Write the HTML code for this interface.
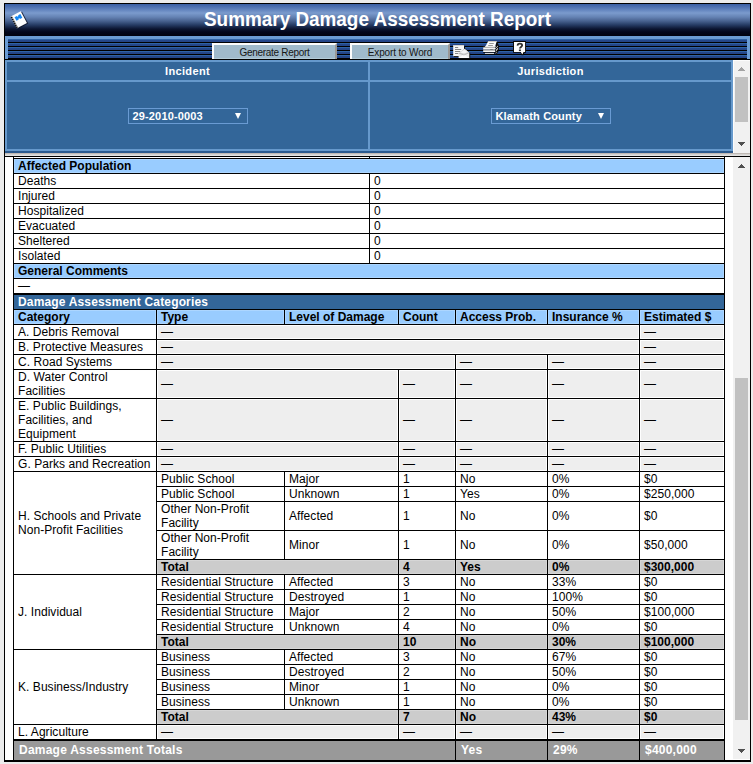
<!DOCTYPE html>
<html>
<head>
<meta charset="utf-8">
<title>Summary Damage Assessment Report</title>
<style>
html,body{margin:0;padding:0;}
body{width:753px;height:764px;overflow:hidden;background:#ececec;font-family:"Liberation Sans",sans-serif;font-size:12px;color:#000;position:relative;}
#frame{position:absolute;left:4px;top:3px;width:745px;height:757px;border:1px solid #000;background:#fff;overflow:hidden;}
/* coordinates inside frame: page x-5, page y-4 */
#title{position:absolute;left:0;top:0;width:745px;height:32px;
 background:linear-gradient(to bottom,#3a5fa4 0px,#5578b6 4px,#7b9bcd 9px,#6583b4 13px,#48628f 17px,#253b63 21px,#0b1530 25px,#03061a 28px,#01020e 32px);}
#title h1{margin:0;position:absolute;left:0;top:3px;width:745px;text-align:center;font-size:20px;transform:scaleX(0.945);transform-origin:372.5px 0;line-height:24px;font-weight:bold;color:#fff;}
#toolbar{position:absolute;left:0;top:32px;width:739px;height:20px;border:3px solid #6a9bd3;border-bottom:none;
 background:repeating-linear-gradient(to bottom,#3068ab 0px,#2c5c9f 1px,#25478b 1px,#234487 3px,#000 3px,#000 4px);}
#tbline{position:absolute;left:0;top:55px;width:745px;height:1px;background:#000;}
.btn{position:absolute;top:4px;height:14px;border:2px solid;border-color:#fbfbfb #9a9896 #9a9896 #fbfbfb;border-bottom:none;background:linear-gradient(to bottom,#a0bacb 0,#a0bacb 13px,#b4ccd9 13px);color:#161616;font-size:10px;line-height:15px;text-align:center;letter-spacing:-0.3px;}
#panel{position:absolute;left:0;top:56px;width:745px;height:93px;background:linear-gradient(to bottom,#336699 0,#336699 91px,#2b5a8e 91px);}
#split{position:absolute;left:0;top:149px;width:745px;height:3px;background:linear-gradient(to bottom,#b4aca6,#d6d4d2,#e6e6e6);border-bottom:1px solid #000;}
#main{position:absolute;left:0;top:153px;width:745px;height:603px;background:#fff;}
#botline{position:absolute;left:0;top:756px;width:745px;height:1px;background:#000;}
table.d{position:absolute;left:8px;border-collapse:separate;border-spacing:0;border-left:1px solid #000;border-top:1px solid #000;table-layout:fixed;}
table.d td{border-right:1px solid #000;border-bottom:1px solid #000;padding:0 4px;line-height:14px;height:14px;font-size:12px;vertical-align:middle;background:#fff;overflow:hidden;white-space:nowrap;letter-spacing:0.05px;box-shadow:inset 0 0 0 1px rgba(255,255,255,0.45);}
table.d td.h{background:#99ccff;font-weight:bold;letter-spacing:0;box-shadow:inset 0 0 0 1px rgba(255,255,255,0.2);}
table.d td.hd{background:#336699;color:#fff;font-weight:bold;letter-spacing:0.16px;box-shadow:none;}
table.d td.e{background:#eeeeee;box-shadow:inset 0 0 0 1px rgba(255,255,255,0.9);}
table.d tr.t td{background:#cccccc;font-weight:bold;letter-spacing:0;box-shadow:inset 0 0 0 1px rgba(255,255,255,0.2);}
table.d tr.g td{background:#999999;color:#fff;font-weight:bold;height:17px;border-top:1px solid #000;padding:2px 4px 0 5px;vertical-align:top;box-shadow:none;letter-spacing:0.23px;}
table.p{position:absolute;left:0;top:0;width:728px;height:91px;border-collapse:separate;border-spacing:0;border:1px solid #6699cc;}
table.p td{border:1px solid #6699cc;text-align:center;color:#fff;font-weight:bold;font-size:11px;padding:0;}
table.p td.ph{height:18px;line-height:18px;letter-spacing:0.35px;}
table.p td.pb{vertical-align:middle;}
.sel{display:inline-block;position:relative;height:14px;line-height:14px;border:1px solid #6a9bd3;text-align:left;text-indent:4px;font-size:11px;color:#fff;font-weight:bold;letter-spacing:0.15px;}
.sel i{position:absolute;right:6px;top:4px;width:0;height:0;border-left:3.5px solid transparent;border-right:3.5px solid transparent;border-top:6px solid #fff;}
.sb{position:absolute;width:17px;background:#f1f1f1;}
.thumb{position:absolute;left:2px;width:13px;background:#c1c1c1;}
.arr{position:absolute;left:5px;display:block;}
</style>
</head>
<body>
<div id="frame">
 <div id="title"><h1>Summary Damage Assessment Report</h1></div>
 <div id="toolbar">
  <div class="btn" style="left:204px;width:121px;">Generate Report</div>
  <div class="btn" style="left:342px;width:96px;letter-spacing:-0.15px;">Export to Word</div>
 </div>
 <div id="tbline"></div>
 <svg id="ic-note" style="position:absolute;left:0;top:0;" width="32" height="32" viewBox="0 0 32 32">
  <g transform="translate(13.9,15.8) rotate(-28)">
   <rect x="-4.6" y="-5.6" width="11.2" height="13.2" fill="#0a0f20" opacity="0.75"/>
   <rect x="-5.7" y="-6.7" width="11.3" height="13.3" fill="#fdfdfd"/>
   <rect x="-5.7" y="-6.7" width="1.6" height="13.3" fill="#d8d8d8"/>
   <g fill="#111"><circle cx="-5.3" cy="-5.4" r="0.85"/><circle cx="-5.3" cy="-3.2" r="0.85"/><circle cx="-5.3" cy="-1.0" r="0.85"/><circle cx="-5.3" cy="1.2" r="0.85"/><circle cx="-5.3" cy="3.4" r="0.85"/><circle cx="-5.3" cy="5.6" r="0.85"/></g>
   <path d="M-2.6,-4.4 h2.6 v0.9 h1.4 v-0.9 h2.6 v4.2 h-2.6 v-0.9 h-1.4 v0.9 h-2.6 z" fill="#1787f2"/>
  </g>
 </svg>
 <svg id="ic-mail" style="position:absolute;left:447px;top:40px;" width="20" height="16" viewBox="0 0 20 16">
  <rect x="2" y="2" width="11" height="11" fill="#0c0c0c"/>
  <rect x="1.2" y="1.2" width="10.8" height="10.9" fill="#f7f7f7"/>
  <rect x="1.2" y="1.2" width="10.8" height="0.8" fill="#d8d2c8"/>
  <g stroke="#868686" stroke-width="1"><line x1="3" y1="3.5" x2="6.2" y2="3.5"/><line x1="3" y1="5.5" x2="9.2" y2="5.5"/><line x1="3" y1="7.5" x2="8.3" y2="7.5"/><line x1="3" y1="9.5" x2="6.3" y2="9.5"/></g>
  <path d="M7.4,9.6 L12.9,4.4 L18.2,9 L18.2,14.8 L7.4,14.8 z" fill="#0c0c0c"/>
  <path d="M6.6,9.2 L12.5,4.8 L17.3,8.7 L17.3,13.9 L6.6,13.9 z" fill="#ececec"/>
  <path d="M6.6,9.2 L12.5,4.8 L17.3,8.7 L12,10.9 z" fill="#d2d2d2"/>
  <path d="M8.2,8.6 L12.5,5.4 L15.8,8.2 L12,9.6 z" fill="#f4f4f4"/>
  <path d="M6.6,13.9 L12,10.5 L17.3,13.9 z" fill="#fbfbfb"/>
  <path d="M6.6,9.2 L12,11 L17.3,8.7" stroke="#a8a8a8" stroke-width="0.6" fill="none"/>
 </svg>
 <svg id="ic-print" style="position:absolute;left:477px;top:36px;" width="18" height="16" viewBox="0 0 18 16">
  <path d="M14.4,1.2 L15.6,3 L16.8,5.2 L16.9,9.4 L16.2,12 L14.4,14.5 L12.2,14.5 L13.2,12.4 L13.2,7 z" fill="#0b0b0b"/>
  <g fill="#e4e4e4"><rect x="12.9" y="5.9" width="0.9" height="0.9"/><rect x="15.1" y="5.9" width="0.9" height="0.9"/><rect x="14" y="6.9" width="0.9" height="0.9"/><rect x="12.9" y="7.9" width="0.9" height="0.9"/><rect x="15.1" y="7.9" width="0.9" height="0.9"/><rect x="14.2" y="9" width="0.9" height="0.9"/><rect x="15.1" y="8.9" width="0.8" height="0.8"/><rect x="14" y="10.2" width="0.9" height="0.9"/><rect x="14.3" y="11.9" width="0.8" height="0.8"/><rect x="13.4" y="12.7" width="0.8" height="0.8"/></g>
  <path d="M6.2,1.2 L14.8,1.2 L12.8,7 L2.8,7 L4.2,5 L5.2,3 z" fill="#fbfbfb"/>
  <path d="M6.2,1.2 L14.8,1.2 L14.6,1.9 L5.9,1.9 z" fill="#cfc8ba"/>
  <g stroke="#8c8c8c" stroke-width="0.9"><line x1="7.2" y1="3.5" x2="11.8" y2="3.5"/><line x1="6.2" y1="5.5" x2="10.9" y2="5.5"/></g>
  <rect x="1.4" y="6.8" width="11.8" height="1.2" fill="#b4b4b4"/>
  <rect x="1.2" y="8" width="12" height="1.2" fill="#f6f6f6"/>
  <rect x="1.2" y="9.2" width="12" height="1.1" fill="#b0b0b0"/>
  <rect x="8.2" y="9.3" width="2.6" height="0.9" fill="#6a6a6a"/>
  <rect x="1.2" y="10.3" width="12" height="1.7" fill="#f8f8f8"/>
  <rect x="1.2" y="12" width="12.2" height="0.8" fill="#050505"/>
  <rect x="3" y="12.9" width="9" height="1" fill="#ffffff"/>
  <rect x="2.6" y="13.9" width="10" height="0.7" fill="#050505"/>
 </svg>
 <svg id="ic-help" style="position:absolute;left:507px;top:36px;" width="16" height="16" viewBox="0 0 16 16">
  <path d="M1.1,0.9 H14 V12.7 H12.6 L11.4,15.2 L9.4,15.2 L8.6,12.7 H1.1 z" fill="#070707"/>
  <path d="M2,1.9 H13.1 V11.9 H11.5 L10.5,14.2 L9.6,13.4 L8.9,11.9 H2 z" fill="#fdfdfd"/>
  <path d="M5.7,5.6 C5.5,2.9 10.3,3 10.1,5.5 C10,7 7.9,6.9 7.9,8.6" stroke="#303030" stroke-width="1.9" fill="none"/><rect x="6.9" y="9.5" width="2" height="1.6" fill="#303030"/>
 </svg>

 <div id="panel">
  <table class="p" cellspacing="0" cellpadding="0">
   <tr><td class="ph" style="width:361px;">Incident</td><td class="ph">Jurisdiction</td></tr>
   <tr><td class="pb"><div class="sel" style="width:118px;">29-2010-0003<i></i></div></td><td class="pb"><div class="sel" style="width:118px;">Klamath County<i></i></div></td></tr>
  </table>
  <div class="sb" style="left:728px;top:0;height:93px;box-shadow:inset 1px 1px 0 #fcfcfc;">
   <svg class="arr" style="top:7px;" width="7" height="4" viewBox="0 0 7 4" shape-rendering="crispEdges"><path d="M3,0h1v1h1v1h1v1h1v1h-7v-1h1v-1h1v-1h1z" fill="#a3a3a3"/></svg>
   <div class="thumb" style="top:17px;height:45px;"></div>
   <svg class="arr" style="top:82px;" width="7" height="4" viewBox="0 0 7 4" shape-rendering="crispEdges"><path d="M0,0h7v1h-1v1h-1v1h-1v1h-1v-1h-1v-1h-1v-1h-1z" fill="#505050"/></svg>
  </div>
 </div>
 <div id="split"></div>
 <div id="botline"></div>
 <div id="main">
  
  <table class="d" style="top:0px;width:712px;border-top:none;">
   <colgroup><col style="width:356px"><col style="width:355px"></colgroup>
   <tr style="height:2px"><td style="height:1px;line-height:1px;font-size:1px;"></td><td style="height:1px;line-height:1px;font-size:1px;"></td></tr>
   <tr><td class="h" colspan="2">Affected Population</td></tr>
   <tr><td>Deaths</td><td>0</td></tr>
   <tr><td>Injured</td><td>0</td></tr>
   <tr><td>Hospitalized</td><td>0</td></tr>
   <tr><td>Evacuated</td><td>0</td></tr>
   <tr><td>Sheltered</td><td>0</td></tr>
   <tr><td>Isolated</td><td>0</td></tr>
   <tr><td class="h" colspan="2">General Comments</td></tr>
   <tr><td colspan="2">&mdash;</td></tr>
  </table>
  <table class="d" style="top:137px;width:712px;">
   <colgroup><col style="width:143px"><col style="width:128px"><col style="width:114px"><col style="width:57px"><col style="width:92px"><col style="width:92px"><col style="width:85px"></colgroup>
   <tr><td class="hd" colspan="7">Damage Assessment Categories</td></tr>
   <tr><td class="h">Category</td><td class="h">Type</td><td class="h">Level of Damage</td><td class="h">Count</td><td class="h">Access Prob.</td><td class="h">Insurance %</td><td class="h">Estimated $</td></tr>
   <tr><td>A. Debris Removal</td><td class="e" colspan="5">&mdash;</td><td class="e">&mdash;</td></tr>
   <tr><td>B. Protective Measures</td><td class="e" colspan="5">&mdash;</td><td class="e">&mdash;</td></tr>
   <tr><td>C. Road Systems</td><td class="e" colspan="3">&mdash;</td><td class="e">&mdash;</td><td class="e">&mdash;</td><td class="e">&mdash;</td></tr>
   <tr><td>D. Water Control<br>Facilities</td><td class="e" colspan="2">&mdash;</td><td class="e">&mdash;</td><td class="e">&mdash;</td><td class="e">&mdash;</td><td class="e">&mdash;</td></tr>
   <tr><td>E. Public Buildings,<br>Facilities, and<br>Equipment</td><td class="e" colspan="2">&mdash;</td><td class="e">&mdash;</td><td class="e">&mdash;</td><td class="e">&mdash;</td><td class="e">&mdash;</td></tr>
   <tr><td>F. Public Utilities</td><td class="e" colspan="2">&mdash;</td><td class="e">&mdash;</td><td class="e">&mdash;</td><td class="e">&mdash;</td><td class="e">&mdash;</td></tr>
   <tr><td>G. Parks and Recreation</td><td class="e" colspan="2">&mdash;</td><td class="e">&mdash;</td><td class="e">&mdash;</td><td class="e">&mdash;</td><td class="e">&mdash;</td></tr>
   <tr><td rowspan="5">H. Schools and Private<br>Non-Profit Facilities</td><td>Public School</td><td>Major</td><td>1</td><td>No</td><td>0%</td><td>$0</td></tr>
   <tr><td>Public School</td><td>Unknown</td><td>1</td><td>Yes</td><td>0%</td><td>$250,000</td></tr>
   <tr><td>Other Non-Profit<br>Facility</td><td>Affected</td><td>1</td><td>No</td><td>0%</td><td>$0</td></tr>
   <tr><td>Other Non-Profit<br>Facility</td><td>Minor</td><td>1</td><td>No</td><td>0%</td><td>$50,000</td></tr>
   <tr class="t"><td colspan="2">Total</td><td>4</td><td>Yes</td><td>0%</td><td>$300,000</td></tr>
   <tr><td rowspan="5">J. Individual</td><td>Residential Structure</td><td>Affected</td><td>3</td><td>No</td><td>33%</td><td>$0</td></tr>
   <tr><td>Residential Structure</td><td>Destroyed</td><td>1</td><td>No</td><td>100%</td><td>$0</td></tr>
   <tr><td>Residential Structure</td><td>Major</td><td>2</td><td>No</td><td>50%</td><td>$100,000</td></tr>
   <tr><td>Residential Structure</td><td>Unknown</td><td>4</td><td>No</td><td>0%</td><td>$0</td></tr>
   <tr class="t"><td colspan="2">Total</td><td>10</td><td>No</td><td>30%</td><td>$100,000</td></tr>
   <tr><td rowspan="5">K. Business/Industry</td><td>Business</td><td>Affected</td><td>3</td><td>No</td><td>67%</td><td>$0</td></tr>
   <tr><td>Business</td><td>Destroyed</td><td>2</td><td>No</td><td>50%</td><td>$0</td></tr>
   <tr><td>Business</td><td>Minor</td><td>1</td><td>No</td><td>0%</td><td>$0</td></tr>
   <tr><td>Business</td><td>Unknown</td><td>1</td><td>No</td><td>0%</td><td>$0</td></tr>
   <tr class="t"><td colspan="2">Total</td><td>7</td><td>No</td><td>43%</td><td>$0</td></tr>
   <tr><td>L. Agriculture</td><td class="e" colspan="2">&mdash;</td><td class="e">&mdash;</td><td class="e">&mdash;</td><td class="e">&mdash;</td><td class="e">&mdash;</td></tr>
   <tr class="g"><td colspan="4">Damage Assessment Totals</td><td>Yes</td><td>29%</td><td>$400,000</td></tr>
  </table>
  <div class="sb" style="left:728px;top:0;height:602px;">
   <svg class="arr" style="top:7px;" width="7" height="4" viewBox="0 0 7 4" shape-rendering="crispEdges"><path d="M3,0h1v1h1v1h1v1h1v1h-7v-1h1v-1h1v-1h1z" fill="#505050"/></svg>
   <div class="thumb" style="top:221px;height:342px;"></div>
   <svg class="arr" style="top:592px;" width="7" height="4" viewBox="0 0 7 4" shape-rendering="crispEdges"><path d="M0,0h7v1h-1v1h-1v1h-1v1h-1v-1h-1v-1h-1v-1h-1z" fill="#505050"/></svg>
  </div>
 </div>
</div>
</body>
</html>
